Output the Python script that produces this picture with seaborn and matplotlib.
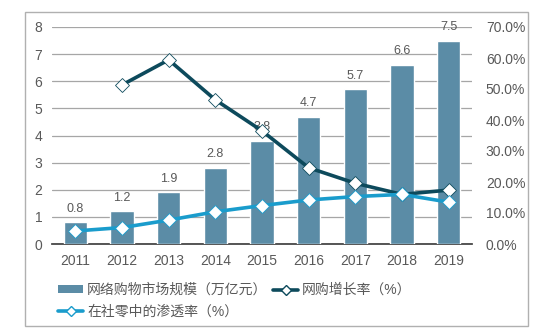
import matplotlib
matplotlib.use("Agg")
import matplotlib.pyplot as plt
import seaborn as sns
import pandas as pd
from matplotlib.patches import Rectangle
from matplotlib.lines import Line2D
from matplotlib.ticker import FuncFormatter

years = ["2011", "2012", "2013", "2014", "2015", "2016", "2017", "2018", "2019"]
market_size = [0.8, 1.2, 1.9, 2.8, 3.8, 4.7, 5.7, 6.6, 7.5]
growth_rate = [None, 51.3, 59.4, 46.5, 36.5, 24.6, 19.6, 16.0, 17.4]
penetration = [4.2, 5.3, 7.7, 10.4, 12.4, 14.2, 15.3, 16.0, 13.5]

label_bar = "网络购物市场规模（万亿元）"
label_growth = "网购增长率（%）"
label_pen = "在社零中的渗透率（%）"

sns.set_theme(style="white")
plt.rcParams['font.family'] = ['Liberation Sans', 'Noto Sans CJK SC', 'DejaVu Sans']

bar_color = "#5b8ca6"
dark_color = "#0d4a5c"
light_color = "#1a9ccc"
text_color = "#595959"

df = pd.DataFrame({"year": years, "size": market_size,
                   "growth": growth_rate, "pen": penetration})

fig = plt.figure(figsize=(5.49, 3.36), dpi=100)
fig.patches.append(Rectangle((25 / 549, 1 - 326 / 336), 503 / 549, 314 / 336,
                             transform=fig.transFigure, fill=False,
                             edgecolor="#b0b0b0", linewidth=1.0))
ax = fig.add_axes([52 / 549, 1 - 244 / 336, 420 / 549, 217 / 336])

sns.barplot(data=df, x="year", y="size", color=bar_color, width=0.5,
            saturation=1, ax=ax, zorder=3)
ax.set_ylim(0, 8)
ax.set_yticks(range(0, 9))
ax.yaxis.grid(True, color="#a6a6a6", linewidth=0.9, zorder=0)
ax.set_axisbelow(True)
for i, v in enumerate(market_size):
    ax.text(i, v + 0.28, f"{v}", ha="center", va="bottom", fontsize=9,
            color=text_color, zorder=5)
ax.set_xlabel("")
ax.set_ylabel("")
for s in ["top", "right", "left"]:
    ax.spines[s].set_visible(False)
ax.spines["bottom"].set_color("#404040")
ax.tick_params(axis="both", labelsize=10, colors=text_color, length=0, pad=7)

ax2 = ax.twinx()
ax2.set_ylim(0, 70)
ax2.set_yticks(range(0, 71, 10))
ax2.yaxis.set_major_formatter(FuncFormatter(lambda v, p: f"{v:.1f}%"))
for s in ["top", "right", "left", "bottom"]:
    ax2.spines[s].set_visible(False)
ax2.tick_params(axis="y", labelsize=10, colors=text_color, length=0, pad=10)

sns.lineplot(data=df, x="year", y="growth", ax=ax2, color=dark_color,
             linewidth=2.6, marker="D", markersize=7, markerfacecolor="white",
             markeredgecolor=dark_color, markeredgewidth=0.6, sort=False, zorder=6)
sns.lineplot(data=df, x="year", y="pen", ax=ax2, color=light_color,
             linewidth=2.6, marker="D", markersize=7, markerfacecolor="white",
             markeredgecolor=light_color, markeredgewidth=0.6, sort=False, zorder=6)
ax2.set_xlabel("")
ax2.set_ylabel("")
ax.set_xlim(-0.5, 8.5)

handles = [
    Rectangle((0, 0), 1, 1, facecolor=bar_color, edgecolor="none"),
    Line2D([0], [0], color=light_color, linewidth=2.6, marker="D", markersize=5,
           markerfacecolor="white", markeredgecolor=light_color),
    Line2D([0], [0], color=dark_color, linewidth=2.6, marker="D", markersize=5,
           markerfacecolor="white", markeredgecolor=dark_color),
]
labels = [label_bar, label_pen, label_growth]
fig.legend(handles, labels, loc="upper left", bbox_to_anchor=(58 / 549, 1 - 283 / 336),
           ncol=2, frameon=False, fontsize=10, handlelength=1.8, handleheight=0.5,
           handletextpad=0.3, columnspacing=0.4, labelspacing=0.55,
           labelcolor=text_color, borderaxespad=0, borderpad=0)

fig.savefig("out.png", dpi=100)
